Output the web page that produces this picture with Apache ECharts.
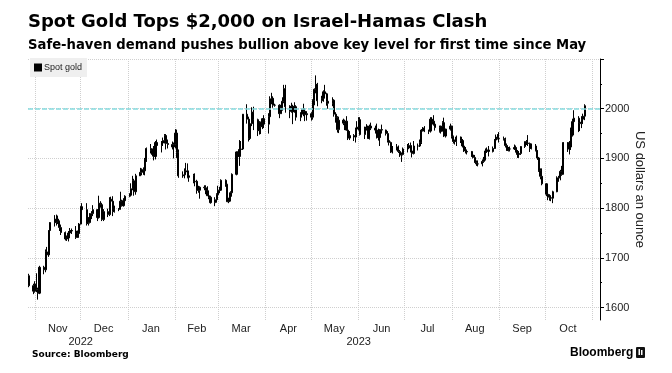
<!DOCTYPE html>
<html><head><meta charset="utf-8">
<script src="https://cdn.jsdelivr.net/npm/echarts@6/dist/echarts.min.js"></script>
<style>html,body{margin:0;padding:0;background:#fff}#c{width:672px;height:373px}</style>
</head><body><div id="c"></div>
<script>
const dates = [
'2022-10-28','2022-10-31',
'2022-11-01','2022-11-02','2022-11-03','2022-11-04','2022-11-07','2022-11-08','2022-11-09','2022-11-10','2022-11-11','2022-11-14','2022-11-15','2022-11-16','2022-11-17','2022-11-18','2022-11-21','2022-11-22','2022-11-23','2022-11-24','2022-11-25','2022-11-28','2022-11-29','2022-11-30',
'2022-12-01','2022-12-02','2022-12-05','2022-12-06','2022-12-07','2022-12-08','2022-12-09','2022-12-12','2022-12-13','2022-12-14','2022-12-15','2022-12-16','2022-12-19','2022-12-20','2022-12-21','2022-12-22','2022-12-23','2022-12-26','2022-12-27','2022-12-28','2022-12-29','2022-12-30',
'2023-01-02','2023-01-03','2023-01-04','2023-01-05','2023-01-06','2023-01-09','2023-01-10','2023-01-11','2023-01-12','2023-01-13','2023-01-16','2023-01-17','2023-01-18','2023-01-19','2023-01-20','2023-01-23','2023-01-24','2023-01-25','2023-01-26','2023-01-27','2023-01-30','2023-01-31',
'2023-02-01','2023-02-02','2023-02-03','2023-02-06','2023-02-07','2023-02-08','2023-02-09','2023-02-10','2023-02-13','2023-02-14','2023-02-15','2023-02-16','2023-02-17','2023-02-20','2023-02-21','2023-02-22','2023-02-23','2023-02-24','2023-02-27','2023-02-28',
'2023-03-01','2023-03-02','2023-03-03','2023-03-06','2023-03-07','2023-03-08','2023-03-09','2023-03-10','2023-03-13','2023-03-14','2023-03-15','2023-03-16','2023-03-17','2023-03-20','2023-03-21','2023-03-22','2023-03-23','2023-03-24','2023-03-27','2023-03-28','2023-03-29','2023-03-30','2023-03-31',
'2023-04-03','2023-04-04','2023-04-05','2023-04-06','2023-04-07','2023-04-10','2023-04-11','2023-04-12','2023-04-13','2023-04-14','2023-04-17','2023-04-18','2023-04-19','2023-04-20','2023-04-21','2023-04-24','2023-04-25','2023-04-26','2023-04-27','2023-04-28',
'2023-05-01','2023-05-02','2023-05-03','2023-05-04','2023-05-05','2023-05-08','2023-05-09','2023-05-10','2023-05-11','2023-05-12','2023-05-15','2023-05-16','2023-05-17','2023-05-18','2023-05-19','2023-05-22','2023-05-23','2023-05-24','2023-05-25','2023-05-26','2023-05-29','2023-05-30','2023-05-31',
'2023-06-01','2023-06-02','2023-06-05','2023-06-06','2023-06-07','2023-06-08','2023-06-09','2023-06-12','2023-06-13','2023-06-14','2023-06-15','2023-06-16','2023-06-19','2023-06-20','2023-06-21','2023-06-22','2023-06-23','2023-06-26','2023-06-27','2023-06-28','2023-06-29','2023-06-30',
'2023-07-03','2023-07-04','2023-07-05','2023-07-06','2023-07-07','2023-07-10','2023-07-11','2023-07-12','2023-07-13','2023-07-14','2023-07-17','2023-07-18','2023-07-19','2023-07-20','2023-07-21','2023-07-24','2023-07-25','2023-07-26','2023-07-27','2023-07-28','2023-07-31',
'2023-08-01','2023-08-02','2023-08-03','2023-08-04','2023-08-07','2023-08-08','2023-08-09','2023-08-10','2023-08-11','2023-08-14','2023-08-15','2023-08-16','2023-08-17','2023-08-18','2023-08-21','2023-08-22','2023-08-23','2023-08-24','2023-08-25','2023-08-28','2023-08-29','2023-08-30','2023-08-31',
'2023-09-01','2023-09-04','2023-09-05','2023-09-06','2023-09-07','2023-09-08','2023-09-11','2023-09-12','2023-09-13','2023-09-14','2023-09-15','2023-09-18','2023-09-19','2023-09-20','2023-09-21','2023-09-22','2023-09-25','2023-09-26','2023-09-27','2023-09-28','2023-09-29',
'2023-10-02','2023-10-03','2023-10-04','2023-10-05','2023-10-06','2023-10-09','2023-10-10','2023-10-11','2023-10-12','2023-10-13','2023-10-16','2023-10-17','2023-10-18','2023-10-19','2023-10-20','2023-10-23','2023-10-24','2023-10-25','2023-10-26','2023-10-27'
];
const opens = [
1664,1644,
1633,1647,1636,1629,1681,1676,1712,1706,1755,1771,1771,1778,1774,1761,1751,1738,1740,1750,1755,1754,1741,1749,
1768,1803,1797,1769,1771,1786,1789,1797,1781,1810,1807,1777,1793,1787,1818,1814,1793,1798,1798,1814,1805,1815,
1824,1826,1839,1855,1833,1865,1872,1877,1875,1897,1920,1916,1908,1904,1932,1926,1931,1936,1946,1930,1928,1923,
1928,1951,1912,1865,1867,1873,1875,1862,1865,1853,1854,1836,1836,1842,1841,1835,1825,1822,1811,1817,
1827,1836,1836,1856,1847,1813,1814,1831,1868,1913,1904,1918,1919,1989,1979,1940,1970,1993,1978,1956,1973,1964,1980,
1969,1984,2020,2021,2007,2007,1990,2003,2015,2040,2004,1995,2005,1994,2004,1983,1989,1998,1995,1988,
1990,1983,2017,2039,2049,2016,2021,2034,2030,2015,2011,2017,1989,1982,1958,1977,1971,1975,1957,1941,1946,1943,1959,
1963,1978,1948,1961,1963,1940,1965,1961,1957,1943,1942,1958,1957,1950,1936,1932,1913,1921,1923,1914,1907,1908,
1919,1921,1926,1915,1910,1925,1925,1932,1957,1961,1955,1955,1979,1975,1969,1962,1954,1965,1972,1945,1959,
1965,1944,1934,1934,1943,1936,1925,1915,1913,1914,1907,1902,1892,1889,1889,1894,1897,1915,1917,1914,1920,1937,1943,
1940,1940,1938,1926,1916,1919,1919,1922,1913,1908,1910,1924,1934,1931,1930,1920,1925,1916,1901,1875,1864,
1849,1828,1822,1821,1820,1833,1861,1861,1874,1868,1932,1919,1923,1947,1974,1981,1973,1970,1979,1985
];
const highs = [
1668,1648,
1653,1669,1640,1684,1684,1717,1722,1756,1772,1786,1787,1785,1775,1767,1753,1745,1754,1760,1759,1764,1755,1770,
1804,1810,1810,1782,1790,1794,1806,1798,1825,1814,1809,1798,1799,1822,1823,1824,1805,1800,1833,1817,1820,1826,
1830,1850,1865,1859,1869,1881,1880,1882,1901,1922,1929,1920,1925,1935,1938,1935,1942,1949,1949,1938,1934,1932,
1959,1958,1918,1874,1880,1891,1890,1871,1869,1870,1857,1845,1844,1846,1846,1844,1832,1825,1822,1830,
1845,1843,1858,1858,1849,1821,1834,1870,1914,1914,1937,1935,1989,2009,1984,1976,2003,2004,1980,1975,1974,1981,1987,
1991,2025,2032,2025,2010,2009,2008,2023,2048,2048,2007,2012,2008,2013,2007,1993,2000,2010,2001,1995,
1993,2019,2041,2067,2052,2026,2037,2048,2032,2020,2023,2019,1993,1985,1984,1980,1978,1985,1960,1955,1949,1962,1975,
1983,1983,1964,1969,1966,1968,1972,1966,1970,1960,1959,1968,1958,1955,1943,1934,1925,1929,1926,1917,1912,1922,
1929,1931,1932,1924,1935,1930,1938,1959,1963,1965,1958,1983,1983,1987,1972,1966,1966,1975,1982,1960,1970,
1966,1946,1938,1946,1944,1939,1928,1923,1918,1915,1910,1907,1896,1896,1898,1903,1920,1922,1925,1924,1939,1948,1949,
1953,1944,1942,1930,1923,1924,1928,1926,1917,1915,1925,1934,1937,1947,1932,1930,1929,1917,1903,1880,1880,
1850,1831,1828,1826,1835,1864,1865,1877,1885,1933,1933,1935,1962,1980,1997,1985,1976,1985,1990,2009
];
const lows = [
1641,1627,
1630,1631,1616,1627,1667,1671,1700,1702,1749,1763,1765,1768,1754,1746,1735,1734,1733,1747,1748,1738,1740,1746,
1767,1787,1765,1765,1769,1778,1784,1774,1779,1801,1774,1774,1782,1784,1811,1784,1791,1794,1797,1803,1803,1811,
1822,1825,1836,1825,1827,1865,1866,1867,1866,1893,1910,1904,1896,1898,1922,1912,1925,1930,1918,1920,1918,1900,
1920,1901,1861,1861,1860,1870,1860,1853,1850,1844,1829,1831,1819,1836,1828,1825,1818,1809,1804,1811,
1826,1830,1835,1843,1812,1810,1814,1823,1866,1895,1885,1911,1917,1970,1934,1937,1965,1957,1945,1948,1949,1959,1961,
1950,1981,2009,2002,2004,1981,1990,1996,2011,1992,1981,1992,1969,1992,1976,1975,1983,1985,1975,1976,
1976,1978,2007,2031,2005,2011,2014,2022,2006,2000,2005,1984,1972,1952,1951,1967,1957,1956,1937,1937,1935,1932,1956,
1956,1946,1939,1956,1940,1938,1957,1950,1940,1936,1925,1950,1946,1932,1926,1911,1910,1916,1911,1903,1893,1906,
1912,1920,1912,1902,1908,1916,1923,1929,1954,1953,1949,1952,1969,1966,1956,1952,1950,1954,1943,1942,1956,
1940,1930,1928,1925,1931,1922,1913,1910,1908,1903,1900,1891,1885,1884,1884,1891,1896,1911,1904,1912,1919,1934,1938,
1932,1936,1922,1915,1914,1914,1917,1912,1901,1901,1907,1921,1927,1925,1913,1918,1914,1897,1873,1858,1846,
1824,1816,1815,1814,1810,1832,1853,1856,1865,1868,1913,1908,1917,1944,1970,1953,1955,1961,1970,1977
];
const closes = [
1644,1633,
1647,1636,1629,1681,1676,1712,1706,1755,1771,1771,1778,1774,1761,1751,1738,1740,1750,1755,1754,1741,1749,1768,
1803,1797,1769,1771,1786,1789,1797,1781,1810,1807,1777,1793,1787,1818,1814,1793,1798,1798,1814,1805,1815,1824,
1826,1839,1855,1833,1865,1872,1877,1875,1897,1920,1916,1908,1904,1932,1926,1931,1936,1946,1930,1928,1923,1928,
1951,1912,1865,1867,1873,1875,1862,1865,1853,1854,1836,1836,1842,1841,1835,1825,1822,1811,1817,1827,
1836,1836,1856,1847,1813,1814,1831,1868,1913,1904,1918,1919,1989,1979,1940,1970,1993,1978,1956,1973,1964,1980,1969,
1984,2020,2021,2007,2007,1990,2003,2015,2040,2004,1995,2005,1994,2004,1983,1989,1998,1995,1988,1990,
1983,2017,2039,2049,2016,2021,2034,2030,2015,2011,2017,1989,1982,1958,1977,1971,1975,1957,1941,1946,1943,1959,1963,
1978,1948,1961,1963,1940,1965,1961,1957,1943,1942,1958,1957,1950,1936,1932,1913,1921,1923,1914,1907,1908,1919,
1921,1926,1915,1910,1925,1925,1932,1957,1961,1955,1955,1979,1975,1969,1962,1954,1965,1972,1945,1959,1965,
1944,1934,1934,1943,1936,1925,1915,1913,1914,1907,1902,1892,1889,1889,1894,1897,1915,1917,1914,1920,1937,1943,1940,
1940,1938,1926,1916,1919,1919,1922,1913,1908,1910,1924,1934,1931,1930,1920,1925,1916,1901,1875,1864,1849,
1828,1822,1821,1820,1833,1861,1861,1874,1868,1932,1919,1923,1947,1974,1981,1973,1970,1979,1985,2006
];
const monthStarts = ['2022-11-01','2022-12-01','2023-01-01','2023-02-01','2023-03-01','2023-04-01','2023-05-01','2023-06-01','2023-07-01','2023-08-01','2023-09-01','2023-10-01','2023-11-01'];
const monthLabelDates = ['2022-11-16','2022-12-16','2023-01-16','2023-02-15','2023-03-16','2023-04-16','2023-05-16','2023-06-16','2023-07-16','2023-08-16','2023-09-16','2023-10-16'];
const monthLabels = ['Nov','Dec','Jan','Feb','Mar','Apr','May','Jun','Jul','Aug','Sep','Oct'];
const yearLabelDates = ['2022-12-01','2023-06-01'];
const yearLabels = ['2022','2023'];
const yLabelValues = [1600,1700,1800,1900,2000];
const yMajorTicks = [1600,1700,1800,1900,2000,2100];
const yMinorTicks = [1650,1750,1850,1950,2050];
const keyLevel = 2000;
const seriesName = 'Spot gold';

const P = s => Date.parse(s + 'T00:00:00Z');
const monthStartTs = monthStarts.map(P);
const monthLabelTs = monthLabelDates.map(P);
const yearLabelTs = yearLabelDates.map(P);
const xMin = P('2022-10-27') + 12 * 3600 * 1000;
const xMax = P('2023-11-06');
const candleData = dates.map((d, i) => [P(d), opens[i], closes[i], lows[i], highs[i]]);

const LBL = "'Liberation Sans', Arial, sans-serif";
const HEAD = "'DejaVu Sans', Verdana, sans-serif";
const chart = echarts.init(document.getElementById('c'), null, {renderer: 'canvas'});
chart.setOption({
  animation: false,
  backgroundColor: '#fff',
  title: [
    {text: 'Spot Gold Tops $2,000 on Israel-Hamas Clash', left: 28, top: 13, padding: 0,
     textStyle: {fontFamily: HEAD, fontSize: 18, fontWeight: 'bold', color: '#000'}},
    {text: 'Safe-haven demand pushes bullion above key level for first time since May', left: 28, top: 39, padding: 0,
     textStyle: {fontFamily: HEAD, fontSize: 13.2, fontWeight: 'bold', color: '#000'}},
    {text: 'Source: Bloomberg', left: 32, top: 350, padding: 0,
     textStyle: {fontFamily: HEAD, fontSize: 9, fontWeight: 'bold', color: '#000'}},
    {text: 'Bloomberg', left: 570, top: 347, padding: 0,
     textStyle: {fontFamily: LBL, fontSize: 12, fontWeight: 'bold', color: '#000'}}
  ],
  graphic: [
    {type: 'rect', left: 636, top: 347, shape: {width: 9, height: 11, r: 1}, style: {fill: '#111'}},
    {type: 'rect', left: 638.5, top: 349, shape: {width: 1.5, height: 6}, style: {fill: '#fff'}},
    {type: 'rect', left: 641, top: 350, shape: {width: 1.5, height: 5}, style: {fill: '#fff'}}
  ],
  legend: {
    data: [seriesName], left: 30, top: 58, backgroundColor: '#efefef',
    padding: [5, 5, 5, 4], icon: 'rect', itemWidth: 6, itemHeight: 6, itemGap: 2,
    textStyle: {fontFamily: LBL, fontSize: 9, color: '#222', padding: [0, 0, 0, -2]},
    selectedMode: false
  },
  grid: {left: 28, right: 72, top: 59, bottom: 53, containLabel: false},
  xAxis: [
    {type: 'value', min: xMin, max: xMax, scale: true,
     axisLine: {show: false}, axisTick: {show: false, customValues: monthStartTs},
     splitLine: {show: true, lineStyle: {color: '#cfcfcf', type: 'dotted', width: 1}},
     axisLabel: {customValues: monthLabelTs, margin: 3, color: '#222', fontFamily: LBL, fontSize: 11,
       formatter: v => monthLabels[monthLabelTs.indexOf(v)] || ''}},
    {type: 'value', min: xMin, max: xMax, scale: true, position: 'bottom', offset: 13,
     axisLine: {show: false}, axisTick: {show: false, customValues: yearLabelTs}, splitLine: {show: false},
     axisLabel: {customValues: yearLabelTs, margin: 3, color: '#222', fontFamily: LBL, fontSize: 11,
       formatter: v => yearLabels[yearLabelTs.indexOf(v)] || ''}}
  ],
  yAxis: [
    {type: 'value', position: 'right', min: 1575, max: 2100,
     axisLine: {show: true, lineStyle: {color: '#000', width: 1}},
     axisTick: {show: true, length: 4, customValues: yMajorTicks, lineStyle: {color: '#000'}},
     axisLabel: {customValues: yLabelValues, margin: 5, color: '#222', fontFamily: LBL, fontSize: 11,
       formatter: v => String(v)},
     splitLine: {show: true, lineStyle: {color: '#cfcfcf', type: 'dotted', width: 1}},
     name: 'US dollars an ounce', nameLocation: 'middle', nameRotate: -90, nameGap: 33,
     nameMoveOverlap: false,
     nameTextStyle: {fontFamily: LBL, fontSize: 13, color: '#222'}},
    {type: 'value', position: 'right', min: 1575, max: 2100,
     axisLine: {show: false},
     axisTick: {show: true, length: 2, customValues: yMinorTicks, lineStyle: {color: '#000'}},
     axisLabel: {show: false}, splitLine: {show: false}}
  ],
  series: [{
    type: 'candlestick', name: seriesName, xAxisIndex: 0, yAxisIndex: 0,
    data: candleData, encode: {x: 0, y: [1, 2, 3, 4]}, barWidth: 1.6,
    itemStyle: {color: '#000', color0: '#000', borderColor: '#000', borderColor0: '#000', borderWidth: 1},
    markLine: {silent: true, symbol: ['none', 'none'], label: {show: false},
      lineStyle: {color: '#86dbe0', type: [5, 2], width: 1.5},
      data: [{yAxis: keyLevel}]}
  }]
});
</script></body></html>
